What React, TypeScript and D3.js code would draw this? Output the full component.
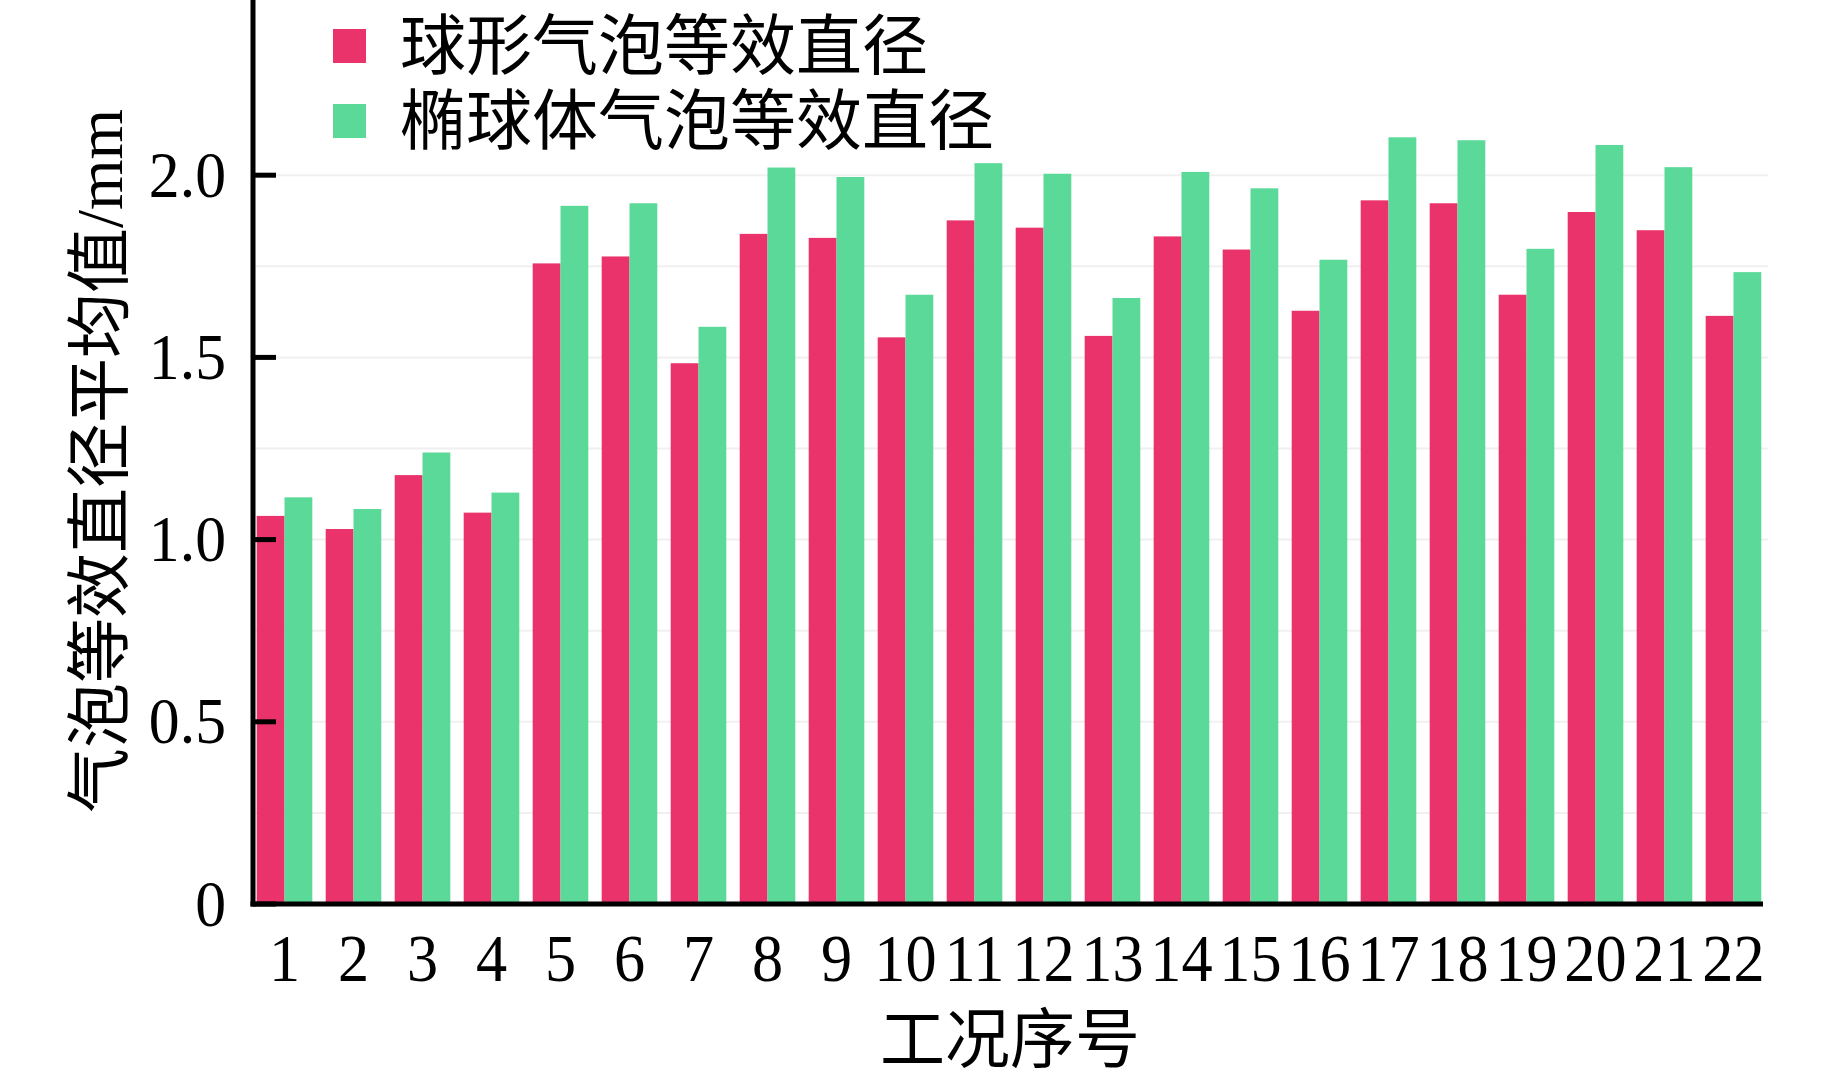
import * as d3 from "d3";

// 工况序号 1..22
const cases = d3.range(1, 23).map(String);

// 球形气泡等效直径 (mm)
const sphereVals = [
  1.065, 1.029, 1.177, 1.074, 1.758, 1.777, 1.484, 1.839, 1.828, 1.555, 1.876,
  1.856, 1.559, 1.832, 1.796, 1.628, 1.931, 1.923, 1.672, 1.899, 1.849, 1.614,
];

// 椭球体气泡等效直径 (mm)
const ellipsoidVals = [
  1.116, 1.084, 1.239, 1.129, 1.916, 1.923, 1.584, 2.021, 1.995, 1.672, 2.033,
  2.004, 1.663, 2.009, 1.964, 1.768, 2.104, 2.096, 1.798, 2.083, 2.022, 1.734,
];

const seriesNames = ["球形气泡等效直径", "椭球体气泡等效直径"];
const yTicks = [0, 0.5, 1.0, 1.5, 2.0];
const gridTicks = [0.25, 0.5, 0.75, 1.0, 1.25, 1.5, 1.75, 2.0];

const RED = "#e9336a";
const GREEN = "#5bd998";
const SERIF = "'Liberation Serif', 'Times New Roman', serif";
const CJK = "'Liberation Serif', 'Noto Sans CJK SC', sans-serif";

const W = 1843;
const H = 1080;
const x0 = 253;
const xEnd = 1763;
const yBase = 904;

const App = () => {
  const y = d3.scaleLinear().domain([0, 2.5]).range([yBase, yBase - 911]);

  const x = d3
    .scaleBand<string>()
    .domain(cases)
    .range([256.7, 1761.3])
    .paddingInner(0.194)
    .paddingOuter(0)
    .align(0);

  const sub = d3
    .scaleBand<string>()
    .domain(["s", "e"])
    .range([0, x.bandwidth()]);

  return (
    <svg
      width={W}
      height={H}
      style={{ position: "absolute", left: 0, top: 0, background: "#fff" }}
    >
      {/* light grid */}
      {gridTicks.map((t) => (
        <line
          key={"g" + t}
          x1={x0}
          x2={1768}
          y1={y(t)}
          y2={y(t)}
          stroke="#f0f0f0"
          strokeWidth={2}
        />
      ))}

      {/* bars */}
      {cases.map((c, i) => (
        <g key={c} transform={`translate(${x(c)},0)`}>
          <rect
            x={sub("s")}
            y={y(sphereVals[i])}
            width={sub.bandwidth()}
            height={yBase - y(sphereVals[i])}
            fill={RED}
          />
          <rect
            x={sub("e")}
            y={y(ellipsoidVals[i])}
            width={sub.bandwidth()}
            height={yBase - y(ellipsoidVals[i])}
            fill={GREEN}
          />
        </g>
      ))}

      {/* axes */}
      <line x1={x0} x2={x0} y1={-10} y2={yBase + 2.5} stroke="#000" strokeWidth={5} />
      <line x1={x0 - 2.5} x2={xEnd} y1={yBase} y2={yBase} stroke="#000" strokeWidth={5} />
      {yTicks.map((t) => (
        <g key={"t" + t}>
          <line x1={x0} x2={x0 + 23} y1={y(t)} y2={y(t)} stroke="#000" strokeWidth={5} />
          <text
            transform={`translate(226,${y(t)}) scale(0.95,1)`}
            textAnchor="end"
            dominantBaseline="central"
            fontFamily={SERIF}
            fontSize={65}
            fill="#000"
          >
            {t === 0 ? "0" : t.toFixed(1)}
          </text>
        </g>
      ))}

      {/* x tick labels */}
      {cases.map((c) => (
        <text
          key={"x" + c}
          transform={`translate(${(x(c) ?? 0) + x.bandwidth() / 2},981) scale(0.93,1)`}
          textAnchor="middle"
          fontFamily={SERIF}
          fontSize={67}
          fill="#000"
        >
          {c}
        </text>
      ))}

      {/* axis titles */}
      <text
        x={1010}
        y={1040}
        textAnchor="middle"
        dominantBaseline="central"
        fontFamily={CJK}
        fontSize={65}
        fill="#000"
      >
        工况序号
      </text>
      <text
        transform="translate(100,461) rotate(-90)"
        textAnchor="middle"
        dominantBaseline="central"
        fontFamily={CJK}
        fontSize={65}
        fill="#000"
      >
        气泡等效直径平均值/mm
      </text>

      {/* legend */}
      {seriesNames.map((name, i) => (
        <g key={name} transform={`translate(333,${46 + i * 75})`}>
          <rect x={0} y={-17} width={33} height={34} fill={i === 0 ? RED : GREEN} />
          <text
            x={67}
            y={0}
            dominantBaseline="central"
            fontFamily={CJK}
            fontSize={66}
            fill="#000"
          >
            {name}
          </text>
        </g>
      ))}
    </svg>
  );
};

export default App;
